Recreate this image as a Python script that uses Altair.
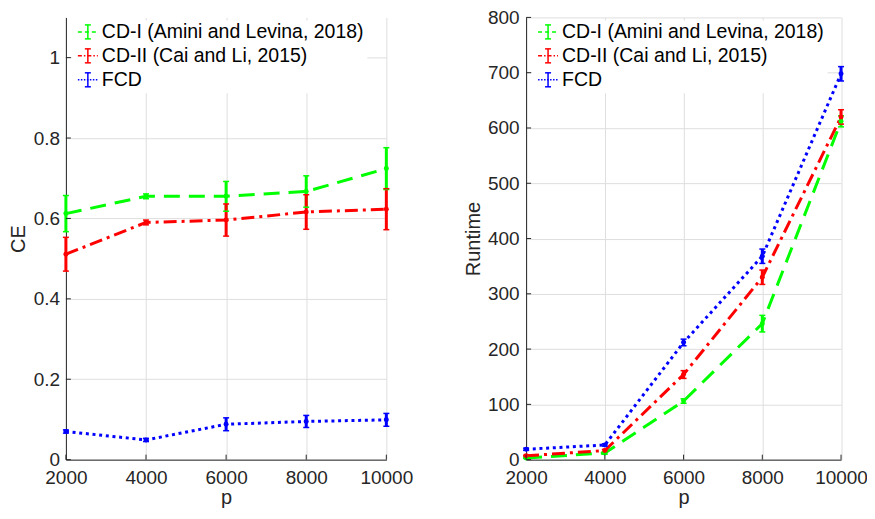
import altair as alt
import pandas as pd

# ---------------- data ----------------
P = [2000, 4000, 6000, 8000, 10000]
METHODS = ["CD-I (Amini and Levina, 2018)", "CD-II (Cai and Li, 2015)", "FCD"]
COLORS = ["#00ff00", "#ff0000", "#0000ff"]

CE_CD1 = [0.612, 0.655, 0.655, 0.667, 0.724]
CE_CD1_ERR = [0.045, 0.006, 0.037, 0.039, 0.052]
CE_CD2 = [0.511, 0.590, 0.596, 0.616, 0.623]
CE_CD2_ERR = [0.042, 0.006, 0.040, 0.043, 0.051]
CE_FCD = [0.070, 0.049, 0.088, 0.095, 0.099]
CE_FCD_ERR = [0.004, 0.004, 0.016, 0.015, 0.016]

RT_CD1 = [3, 12, 106, 246, 612]
RT_CD1_ERR = [1, 2, 4, 15, 10]
RT_CD2 = [7, 16.5, 154, 330, 620]
RT_CD2_ERR = [1, 2, 7, 13, 13]
RT_FCD = [18.8, 26.5, 212, 368, 698]
RT_FCD_ERR = [2, 2, 6, 13, 13]

CE_TICKS = [0, 0.2, 0.4, 0.6, 0.8, 1.0]
RT_TICKS = [0, 100, 200, 300, 400, 500, 600, 700, 800]

# ---------------- styles ----------------
LINE_DASH = [[16, 9], [13, 5, 3, 5], [3, 3.7]]
LEGEND_DASH = [[4, 3], [4, 2, 1.5, 2], [1.5, 1.5]]
FONT = "Liberation Sans"
W_LEFT, W_RIGHT, H = 321, 315.5, 443
AX = "#262626"
GRID = "#dedede"


def build_df(vals, errs):
    rows = []
    for m, v, e in zip(METHODS, vals, errs):
        for p, vv, ee in zip(P, v, e):
            rows.append({"p": p, "value": vv, "lo": vv - ee, "hi": vv + ee, "Method": m})
    return pd.DataFrame(rows)


LEG_DF = pd.DataFrame({"Method": METHODS})


def legend_layers():
    layers = [alt.Chart(LEG_DF).transform_filter(alt.datum.Method == METHODS[0])
              .mark_rect(color="white").encode(
                  x=alt.value(6), x2=alt.value(302), y=alt.value(3), y2=alt.value(76))]
    for r, (m, c, d) in enumerate(zip(METHODS, COLORS, LEGEND_DASH)):
        yc = 14.5 + 24 * r
        row = alt.Chart(LEG_DF).transform_filter(alt.datum.Method == m)
        layers.append(row.mark_rule(color=c, strokeWidth=1.5, strokeDash=d, strokeCap="butt").encode(
            x=alt.value(12), x2=alt.value(32), y=alt.value(yc)))
        layers.append(row.mark_rule(color=c, strokeWidth=1.5).encode(
            x=alt.value(22), y=alt.value(yc - 7), y2=alt.value(yc + 7)))
        for dy in (-7, 7):
            layers.append(row.mark_rule(color=c, strokeWidth=1.5).encode(
                x=alt.value(19), x2=alt.value(25), y=alt.value(yc + dy)))
        layers.append(row.mark_text(align="left", baseline="middle", font=FONT,
                                    fontSize=19.5, color="#000000").encode(
            x=alt.value(36), y=alt.value(yc), text="Method:N"))
    return layers


def panel(vals, errs, ymax, yticks, ytitle, yfmt, width, lpad, tpad):
    df = build_df(vals, errs)
    base = alt.Chart(df)
    x = alt.X("p:Q", scale=alt.Scale(domain=[2000, 10000], nice=False, zero=False),
              axis=alt.Axis(values=P, format="d", title="p", labelFlush=False,
                            labelPadding=8.5, titlePadding=0))
    y = alt.Y("value:Q", scale=alt.Scale(domain=[0, ymax], nice=False, zero=True),
              axis=alt.Axis(values=yticks, format=yfmt, title=ytitle,
                            labelPadding=lpad, titlePadding=tpad))
    color = alt.Color("Method:N", scale=alt.Scale(domain=METHODS, range=COLORS), legend=None)

    lines = [
        base.transform_filter(alt.datum.Method == m).mark_line(
            strokeWidth=3, strokeCap="butt", strokeDash=d).encode(x=x, y=y, color=color)
        for m, d in zip(METHODS, LINE_DASH)
    ]
    bars = base.mark_rule(strokeWidth=3).encode(
        x=x, y=alt.Y("lo:Q"), y2="hi:Q", color=color)
    cap_lo = base.mark_tick(orient="horizontal", size=6, thickness=1.5, opacity=1).encode(
        x=x, y=alt.Y("lo:Q"), color=color)
    cap_hi = base.mark_tick(orient="horizontal", size=6, thickness=1.5, opacity=1).encode(
        x=x, y=alt.Y("hi:Q"), color=color)
    pts = base.mark_circle(size=25, opacity=1).encode(x=x, y=y, color=color)

    ytk = alt.Chart(pd.DataFrame({"value": yticks})).mark_rule(color=AX, strokeWidth=1).encode(
        y=y, x=alt.value(0), x2=alt.value(5))
    xtk = alt.Chart(pd.DataFrame({"p": P})).mark_rule(color=AX, strokeWidth=1).encode(
        x=x, y=alt.value(H), y2=alt.value(H - 5))

    return alt.layer(*lines, bars, cap_lo, cap_hi, pts, ytk, xtk, *legend_layers()).properties(
        width=width, height=H)


left = panel([CE_CD1, CE_CD2, CE_FCD], [CE_CD1_ERR, CE_CD2_ERR, CE_FCD_ERR],
             1.1, CE_TICKS, "CE", "~g", W_LEFT, 6.3, 4.4)
right = panel([RT_CD1, RT_CD2, RT_FCD], [RT_CD1_ERR, RT_CD2_ERR, RT_FCD_ERR],
              800, RT_TICKS, "Runtime", "d", W_RIGHT, 7, 3.7)

chart = alt.hconcat(left, right, spacing=50).resolve_scale(
    x="independent", y="independent", color="independent"
).properties(
    padding={"left": 0, "top": 0, "right": -0.5, "bottom": 0}
).configure_view(strokeWidth=0).configure_axis(
    labelFont=FONT, labelFontSize=19, labelColor=AX,
    titleFont=FONT, titleFontSize=20, titleColor=AX, titleFontWeight="normal",
    domainColor=AX, domainWidth=1, ticks=False, tickSize=0,
    gridColor=GRID, gridWidth=1, grid=True,
)

chart.save("out.html", embed_options={"renderer": "svg", "actions": False})
